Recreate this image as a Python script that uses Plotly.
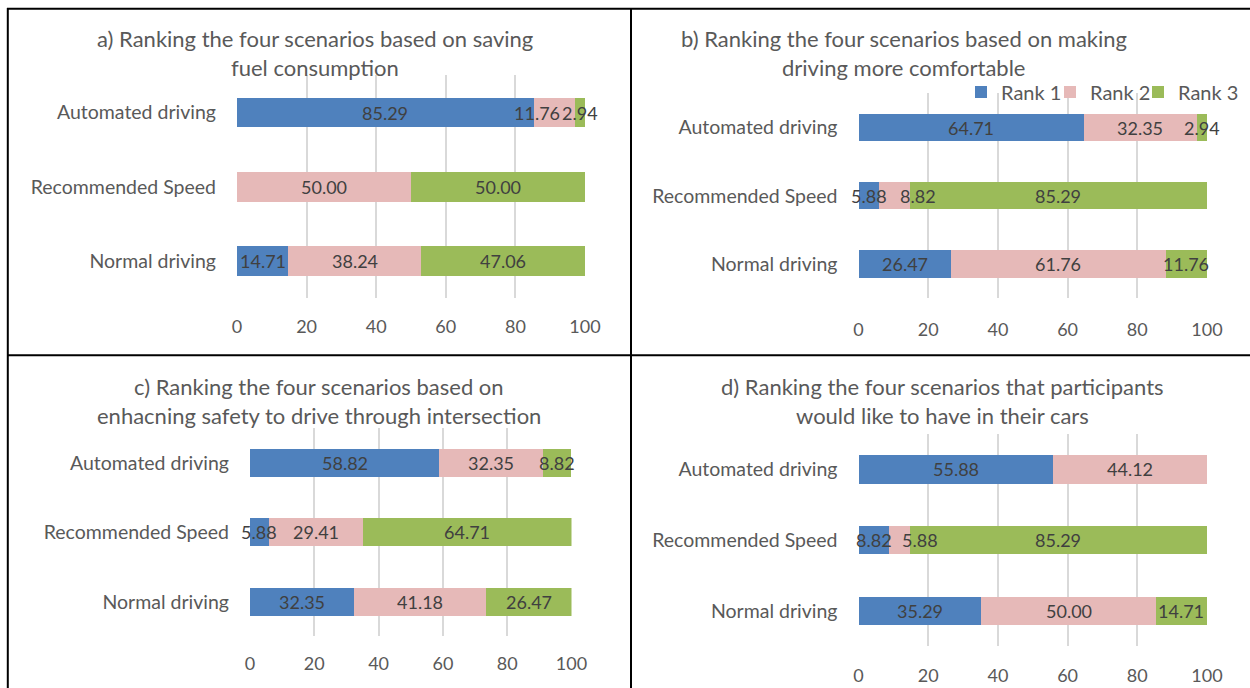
import plotly.graph_objects as go

# Scenarios, listed bottom-to-top as they appear on each chart
categories = ["Normal driving", "Recommended Speed", "Automated driving"]
rank_names = ["Rank 1", "Rank 2", "Rank 3"]

# a) saving fuel consumption (% of participants)
fuel_rank1 = [14.71, 0.00, 85.29]
fuel_rank2 = [38.24, 50.00, 11.76]
fuel_rank3 = [47.06, 50.00, 2.94]

# b) making driving more comfortable
comfort_rank1 = [26.47, 5.88, 64.71]
comfort_rank2 = [61.76, 8.82, 32.35]
comfort_rank3 = [11.76, 85.29, 2.94]

# c) enhancing safety through the intersection
safety_rank1 = [32.35, 5.88, 58.82]
safety_rank2 = [41.18, 29.41, 32.35]
safety_rank3 = [26.47, 64.71, 8.82]

# d) would like to have in their cars
prefer_rank1 = [35.29, 8.82, 55.88]
prefer_rank2 = [50.00, 5.88, 44.12]
prefer_rank3 = [14.71, 85.29, 0.00]

x_ticks = [0, 20, 40, 60, 80, 100]

titles = [
    ["a) Ranking the four scenarios based on saving", "fuel consumption"],
    ["b) Ranking the four scenarios based on making", "driving more comfortable"],
    ["c) Ranking the four scenarios based on", "enhacning safety to drive through intersection"],
    ["d) Ranking the four scenarios that participants", "would like to have in their cars"],
]

panels = [
    [fuel_rank1, fuel_rank2, fuel_rank3],
    [comfort_rank1, comfort_rank2, comfort_rank3],
    [safety_rank1, safety_rank2, safety_rank3],
    [prefer_rank1, prefer_rank2, prefer_rank3],
]

# ---- styling / layout -------------------------------------------------------
W, H = 1250, 688
FONT = "Lato, Calibri, Carlito, sans-serif"
COLORS = ["#4F81BD", "#E6B9B8", "#9BBB59"]
AXIS_TXT = "#595959"
LABEL_TXT = "#404040"
GRID = "#D9D9D9"


def px_x(v):
    return v / W


def px_y(v):
    return 1 - v / H


# plot-area boxes in pixels: (left, right, top, bottom)
boxes = [
    (237, 585, 75.4, 298.1),
    (858.5, 1207, 93.4, 298.1),
    (250, 571.5, 428.3, 636.4),
    (858.5, 1207, 434.1, 646.4),
]
# title centre x and the two line centres y, in pixels
title_pos = [(315, 39, 68), (904, 39, 68), (319, 386, 415), (942, 386, 415)]
xlabel_standoff = [16, 19, 15, 17]

# one single-entry legend per rank, laid out in a row above chart b
legend_ids = ["legend", "legend2", "legend3"]
legend_x = [961, 1050, 1138]
legend_y = 92

# label nudges (px) where neighbouring value labels would collide
label_nudge = {(0, 2, 1): -17, (1, 1, 1): 24, (3, 1, 1): 21}

fig = go.Figure()
annotations = []

for p, series in enumerate(panels):
    ax = "" if p == 0 else str(p + 1)
    for r, vals in enumerate(series):
        fig.add_trace(
            go.Bar(
                x=vals,
                y=categories,
                orientation="h",
                name=rank_names[r],
                marker=dict(color=COLORS[r], line=dict(width=0)),
                xaxis="x" + ax,
                yaxis="y" + ax,
                showlegend=(p == 1),
                legend=legend_ids[r],
                legendgroup=rank_names[r],
                hoverinfo="x+y+name",
            )
        )
    # value labels centred on each segment
    cum = [0.0] * len(categories)
    for r, vals in enumerate(series):
        for c, v in enumerate(vals):
            if v > 0:
                annotations.append(
                    dict(
                        x=cum[c] + v / 2,
                        y=categories[c],
                        xref="x" + ax,
                        yref="y" + ax,
                        text=f"{v:.2f}",
                        showarrow=False,
                        xshift=label_nudge.get((p, c, r), 0),
                        font=dict(family=FONT, size=18, color=LABEL_TXT),
                    )
                )
            cum[c] += v

    left, right, top, bottom = boxes[p]
    fig.update_layout(
        {
            "xaxis" + ax: dict(
                domain=[px_x(left), px_x(right)],
                range=[0, 100],
                tickvals=x_ticks,
                showgrid=True,
                gridcolor=GRID,
                gridwidth=2,
                zeroline=False,
                showline=False,
                ticks="",
                anchor="y" + ax,
                automargin=False,
                tickfont=dict(family=FONT, size=18, color=AXIS_TXT),
                ticklabelstandoff=xlabel_standoff[p],
                fixedrange=True,
            ),
            "yaxis" + ax: dict(
                domain=[px_y(bottom), px_y(top)],
                range=[-0.5, 2.5],
                showgrid=False,
                zeroline=False,
                showline=False,
                ticks="",
                anchor="x" + ax,
                automargin=False,
                tickfont=dict(family=FONT, size=19.5, color=AXIS_TXT),
                ticklabelstandoff=20,
                fixedrange=True,
            ),
        }
    )

    tx, ty1, ty2 = title_pos[p]
    for text, ty in zip(titles[p], (ty1, ty2)):
        annotations.append(
            dict(
                x=px_x(tx),
                y=px_y(ty),
                xref="paper",
                yref="paper",
                text=text,
                showarrow=False,
                xanchor="center",
                yanchor="middle",
                font=dict(family=FONT, size=22, color=AXIS_TXT),
            )
        )

# table-style frame around the four charts
frame = []
line = dict(color="black", width=2)
for x0, y0, x1, y1 in [
    (7, 8.7, W, 8.7),
    (7.8, 8, 7.8, H),
    (631, 8, 631, H),
    (7, 355.3, W, 355.3),
]:
    frame.append(
        dict(type="line", xref="paper", yref="paper",
             x0=px_x(x0), y0=px_y(y0), x1=px_x(x1), y1=px_y(y1), line=line)
    )

legends = {}
for lid, lx in zip(legend_ids, legend_x):
    legends[lid] = dict(
        orientation="h",
        x=px_x(lx),
        y=px_y(legend_y),
        xanchor="left",
        yanchor="middle",
        font=dict(family=FONT, size=20, color=AXIS_TXT),
        bgcolor="rgba(0,0,0,0)",
    )

fig.update_layout(
    width=W,
    height=H,
    autosize=False,
    margin=dict(l=0, r=0, t=0, b=0, autoexpand=False),
    paper_bgcolor="white",
    plot_bgcolor="white",
    barmode="stack",
    bargap=0.6,
    annotations=annotations,
    shapes=frame,
    showlegend=True,
    font=dict(family=FONT),
    **legends,
)

fig.write_html("out.html")
